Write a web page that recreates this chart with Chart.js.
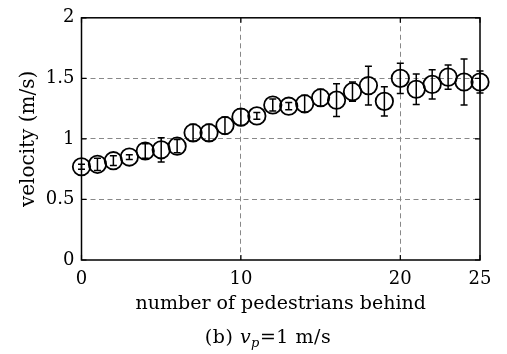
<!DOCTYPE html>
<html>
<head>
<meta charset="utf-8">
<script src="https://cdn.jsdelivr.net/npm/chart.js@4/dist/chart.umd.min.js"></script>
<style>
    html, body { margin: 0; padding: 0; background: #fff; }
    #wrap { position: relative; width: 507px; height: 354px; }
    #caption {
        position: absolute; left: 0; width: 536px; top: 325px;
        text-align: center; font-family: 'DejaVu Serif', serif; font-size: 19px; color: #000;
        letter-spacing: 0.5px;
    }
    #caption sub { font-size: 13px; vertical-align: -4px; line-height: 0; }
</style>
</head>
<body>
<div id="wrap">
    <canvas id="velocityChart" width="507" height="354"></canvas>
    <div id="caption">(b) <i>v</i><sub><i>p</i></sub>=1 m/s</div>
</div>
<script>
// ========================================
// Data
// ========================================
const pedestriansBehind = [0, 1, 2, 3, 4, 5, 6, 7, 8, 9, 10, 11, 12, 13, 14, 15, 16, 17, 18, 19, 20, 21, 22, 23, 24, 25];
const velocity = [0.77, 0.79, 0.82, 0.85, 0.90, 0.91, 0.94, 1.05, 1.05, 1.11, 1.18, 1.19, 1.28, 1.27, 1.29, 1.34, 1.32, 1.39, 1.44, 1.31, 1.50, 1.41, 1.45, 1.51, 1.47, 1.47];
const velocityErr = [0.02, 0.05, 0.04, 0.02, 0.06, 0.10, 0.055, 0.07, 0.07, 0.07, 0.07, 0.027, 0.05, 0.03, 0.07, 0.07, 0.135, 0.08, 0.16, 0.12, 0.125, 0.125, 0.12, 0.10, 0.19, 0.09];
const xTickValues = [0, 10, 20, 25];
const yTickValues = [0, 0.5, 1, 1.5, 2];

const serif = "'DejaVu Serif', 'Liberation Serif', serif";

// frame + inward tick marks
const framePlugin = {
    id: 'frame',
    beforeDatasetsDraw(chart) {
        const { ctx, chartArea: a, scales: { x, y } } = chart;
        ctx.save();
        ctx.strokeStyle = '#000';
        ctx.lineWidth = 1.5;
        ctx.strokeRect(a.left, a.top, a.right - a.left, a.bottom - a.top);
        ctx.lineWidth = 1.2;
        ctx.beginPath();
        xTickValues.forEach(v => {
            const px = x.getPixelForValue(v);
            ctx.moveTo(px, a.bottom); ctx.lineTo(px, a.bottom - 5);
            ctx.moveTo(px, a.top); ctx.lineTo(px, a.top + 5);
        });
        yTickValues.forEach(v => {
            const py = y.getPixelForValue(v);
            ctx.moveTo(a.left, py); ctx.lineTo(a.left + 5, py);
            ctx.moveTo(a.right, py); ctx.lineTo(a.right - 5, py);
        });
        ctx.stroke();
        ctx.restore();
    }
};

// vertical error bars with caps
const errorBarPlugin = {
    id: 'errorBars',
    afterDatasetsDraw(chart) {
        const { ctx, scales: { x, y } } = chart;
        ctx.save();
        ctx.strokeStyle = '#000';
        ctx.lineWidth = 1.5;
        ctx.beginPath();
        pedestriansBehind.forEach((n, i) => {
            const px = x.getPixelForValue(n);
            const top = y.getPixelForValue(velocity[i] + velocityErr[i]);
            const bot = y.getPixelForValue(velocity[i] - velocityErr[i]);
            ctx.moveTo(px, top); ctx.lineTo(px, bot);
            ctx.moveTo(px - 3.5, top); ctx.lineTo(px + 3.5, top);
            ctx.moveTo(px - 3.5, bot); ctx.lineTo(px + 3.5, bot);
        });
        ctx.stroke();
        ctx.restore();
    }
};

const gridColor = c => (c.tick && (c.tick.value === c.scale.min || c.tick.value === c.scale.max)) ? 'rgba(0,0,0,0)' : '#888';

new Chart(document.getElementById('velocityChart'), {
    type: 'scatter',
    data: {
        datasets: [{
            data: pedestriansBehind.map((n, i) => ({ x: n, y: velocity[i] })),
            showLine: false,
            pointStyle: 'circle',
            pointRadius: 8.7,
            pointBorderWidth: 1.8,
            pointBorderColor: '#000',
            pointBackgroundColor: 'rgba(0,0,0,0)',
            clip: false
        }]
    },
    options: {
        responsive: false,
        animation: false,
        layout: { padding: { left: 0, top: 9, right: 27, bottom: 34 } },
        plugins: { legend: { display: false }, tooltip: { enabled: false } },
        scales: {
            x: {
                type: 'linear', min: 0, max: 25,
                afterBuildTicks: s => { s.ticks = xTickValues.map(v => ({ value: v })); },
                afterFit: s => { s.height = 60; },
                grid: { color: gridColor, lineWidth: 1, drawTicks: false },
                border: { display: false, dash: [5, 3.5] },
                ticks: { color: '#000', font: { family: serif, size: 18 }, padding: 9, maxRotation: 0 },
                title: { display: true, text: 'number of pedestrians behind', color: '#000', font: { family: serif, size: 19 }, padding: { top: 0, bottom: 5 } }
            },
            y: {
                type: 'linear', min: 0, max: 2,
                afterBuildTicks: s => { s.ticks = yTickValues.map(v => ({ value: v })); },
                afterFit: s => { s.width = 81.5; },
                grid: { color: gridColor, lineWidth: 1, drawTicks: false },
                border: { display: false, dash: [5, 3.5] },
                ticks: { color: '#000', font: { family: serif, size: 18 }, padding: 7, callback: v => String(v) },
                title: { display: true, text: 'velocity (m/s)', color: '#000', font: { family: serif, size: 20 }, padding: { top: 17, bottom: 0 } }
            }
        }
    },
    plugins: [framePlugin, errorBarPlugin]
});
</script>
</body>
</html>
